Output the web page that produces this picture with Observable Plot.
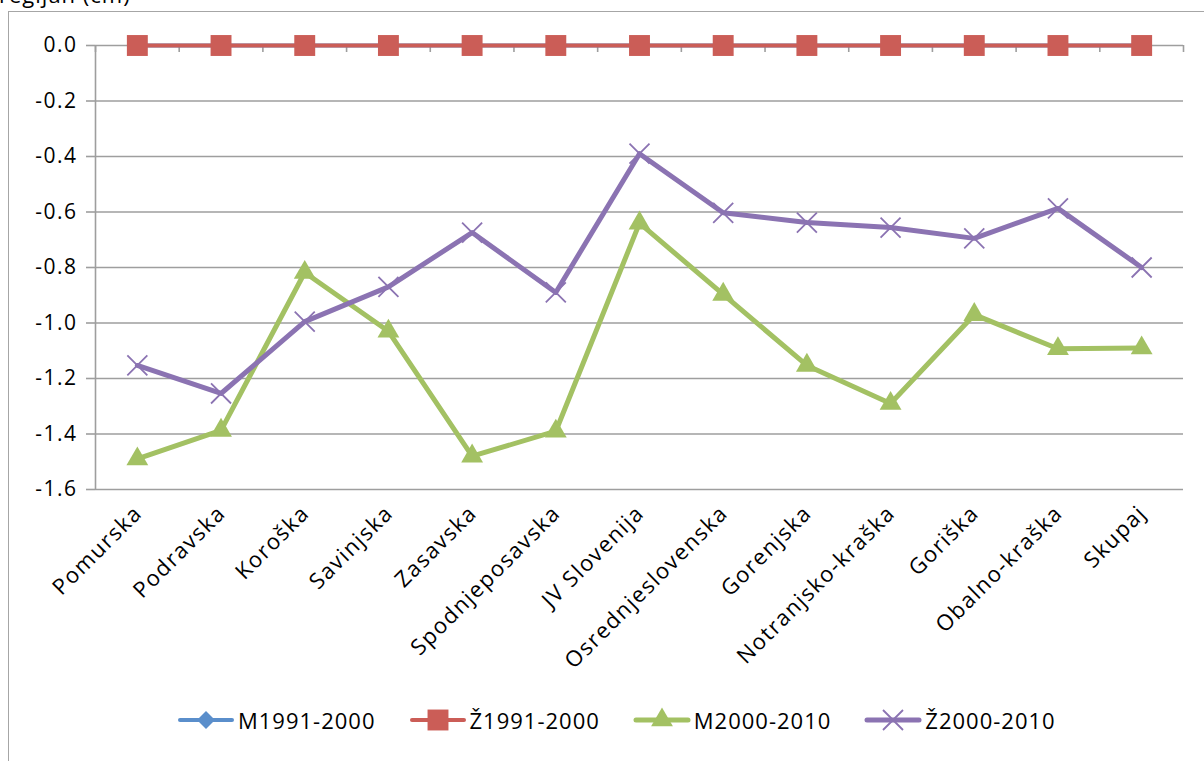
<!DOCTYPE html>
<html><head><meta charset="utf-8">
<script src="https://cdn.jsdelivr.net/npm/d3@7"></script>
<script src="https://cdn.jsdelivr.net/npm/@observablehq/plot@0.6"></script>
<style>
body{margin:0;background:#fff;font-family:"Open Sans",sans-serif;}
#wrap{position:relative;width:1204px;height:761px;overflow:hidden;background:#fff;}
#frame{position:absolute;left:8px;top:11px;width:1400px;height:900px;border-left:1.5px solid #a6a6a6;border-top:1.5px solid #a6a6a6;}
#title{position:absolute;left:-1px;top:-21px;font-size:22px;letter-spacing:1px;color:#000;white-space:nowrap;}
#chart{position:absolute;left:0;top:0;}
#legend{position:absolute;top:705px;left:177px;display:flex;align-items:center;font-size:22px;letter-spacing:1px;color:#000;}
.item{display:flex;align-items:center;margin-right:33px;}
.item svg{margin-right:3px;}
</style></head>
<body>
<div id="wrap">
  <div id="frame"></div>
  <div id="title">regijah (cm)</div>
  <div id="chart"></div>
  <div id="legend"></div>
</div>
<script>
const regions = ["Pomurska","Podravska","Koroška","Savinjska","Zasavska","Spodnjeposavska","JV Slovenija","Osrednjeslovenska","Gorenjska","Notranjsko-kraška","Goriška","Obalno-kraška","Skupaj"];
const seriesNames = ["M1991-2000","Ž1991-2000","M2000-2010","Ž2000-2010"];
const m1991 = [0,0,0,0,0,0,0,0,0,0,0,0,0];
const z1991 = [0,0,0,0,0,0,0,0,0,0,0,0,0];
const m2000 = [-1.49,-1.387,-0.818,-1.03,-1.48,-1.39,-0.64,-0.897,-1.153,-1.29,-0.97,-1.093,-1.09];
const z2000 = [-1.153,-1.254,-0.995,-0.87,-0.674,-0.89,-0.39,-0.603,-0.638,-0.656,-0.695,-0.587,-0.80];
const yTicks = [0,-0.2,-0.4,-0.6,-0.8,-1.0,-1.2,-1.4,-1.6];

const seriesColors = ["#5a8ecb","#cb5d57","#a3c163","#8b73b2"];
const seriesSymbols = ["diamond2","square","triangle","times"];
const seriesR = [8.1,11.8,8.1,9.15];
const seriesLW = [4,4,5,5];

const values = [m1991, z1991, m2000, z2000];
const series = seriesNames.map((name,k)=>({name, values:values[k], color:seriesColors[k], symbol:seriesSymbols[k], r:seriesR[k], lw:seriesLW[k]}));

const gridColor = "#9e9e9e";
const marks = [
  Plot.ruleY(yTicks, {stroke:gridColor, strokeWidth:1.6}),
  Plot.ruleY(yTicks, {x1:0, x2:0, insetLeft:-9, stroke:gridColor, strokeWidth:1.6}),
  Plot.ruleX([0], {y1:-1.6, y2:0, stroke:gridColor, strokeWidth:1.6}),
  Plot.ruleX(d3.range(regions.length+1), {y1:0, y2:0, insetBottom:-7, stroke:gridColor, strokeWidth:1.6}),
  Plot.text(yTicks, {x:0, y:d=>d, text:d=>d.toFixed(1), textAnchor:"end", dx:-18, fontSize:21, fill:"#000"}),
  Plot.text(regions, {x:(d,i)=>i+0.5, frameAnchor:"bottom", text:d=>d, rotate:-45, textAnchor:"end", dx:6, dy:25, fontSize:22, fill:"#000"})
];
series.forEach(s=>{
  marks.push(Plot.line(s.values, {x:(d,i)=>i+0.5, y:d=>d, stroke:s.color, strokeWidth:s.lw, strokeLinejoin:"round", strokeLinecap:"round"}));
  marks.push(Plot.dot(s.values, {x:(d,i)=>i+0.5, y:d=>d, symbol:s.symbol, r:s.r,
    fill: s.symbol==="times" ? "none" : s.color,
    stroke: s.symbol==="times" ? s.color : "none",
    strokeWidth: s.symbol==="times" ? 1.8 : 0}));
});

const chart = Plot.plot({
  width:1204, height:761,
  marginLeft:95, marginRight:21, marginTop:45, marginBottom:272,
  x:{domain:[0,regions.length], axis:null},
  y:{domain:[-1.6,0], axis:null},
  style:{fontFamily:"Open Sans", fontSize:"20px", background:"transparent", letterSpacing:"1.5px", overflow:"visible"},
  marks
});
document.getElementById("chart").appendChild(chart);

// legend
const legend = d3.select("#legend");
series.forEach(s=>{
  const item = legend.append("div").attr("class","item");
  const svg = item.append("svg").attr("width",58).attr("height",26);
  svg.append("line").attr("x1",3).attr("x2",55).attr("y1",13).attr("y2",13)
    .attr("stroke",s.color).attr("stroke-width",s.lw).attr("stroke-linecap","round");
  const sym = {diamond2:d3.symbolDiamond2, square:d3.symbolSquare, triangle:d3.symbolTriangle, times:d3.symbolTimes}[s.symbol];
  const path = d3.symbol(sym, Math.PI*s.r*s.r)();
  svg.append("path").attr("d",path).attr("transform","translate(29,13)")
    .attr("fill", s.symbol==="times" ? "none" : s.color)
    .attr("stroke", s.symbol==="times" ? s.color : "none")
    .attr("stroke-width", 1.8);
  item.append("span").text(s.name);
});
</script>
</body></html>
